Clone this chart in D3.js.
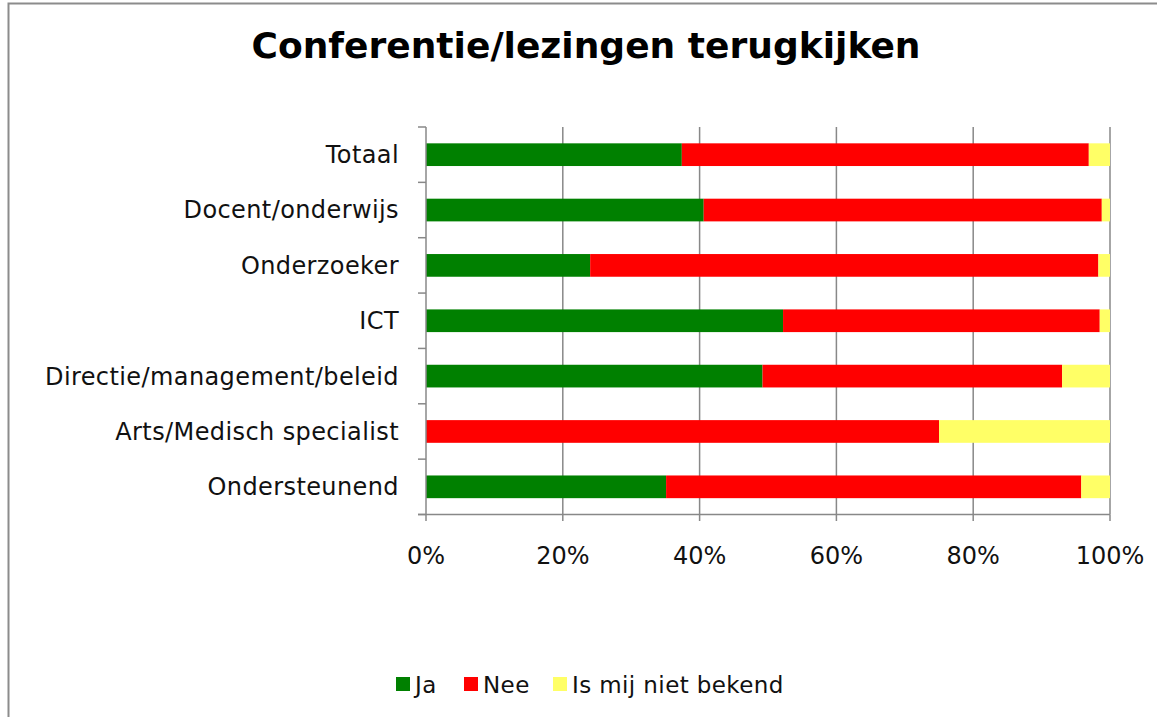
<!DOCTYPE html>
<html>
<head>
<meta charset="utf-8">
<script src="https://cdn.jsdelivr.net/npm/d3@7"></script>
<style>
  body { margin: 0; background: #fff; }
  svg { display: block; font-family: "DejaVu Sans", Verdana, sans-serif; }
</style>
</head>
<body>
<svg></svg>
<script>
"use strict"

// categories top to bottom
let categories = ["Totaal", "Docent/onderwijs", "Onderzoeker", "ICT",
  "Directie/management/beleid", "Arts/Medisch specialist", "Ondersteunend"]

// percentages per answer
let ja = [37.4, 40.6, 24.0, 52.2, 49.2, 0, 35.1]
let nee = [59.5, 58.2, 74.3, 46.3, 43.8, 75.0, 60.7]
let onbekend = [3.1, 1.2, 1.7, 1.5, 7.0, 25.0, 4.2]

let seriesNames = ["Ja", "Nee", "Is mij niet bekend"]
let seriesColors = ["#008000", "#ff0000", "#ffff66"]
let tickValues = [0, 20, 40, 60, 80, 100]

let width = 1157, height = 717
let svg = d3.select("svg").attr("width", width).attr("height", height)

// chart frame
svg.append("rect")
  .attr("x", 8.5).attr("y", 3.5)
  .attr("width", 1160).attr("height", 730)
  .attr("fill", "#fff").attr("stroke", "#8c8c8c").attr("stroke-width", 2)

svg.append("text")
  .attr("x", 586).attr("y", 58)
  .attr("text-anchor", "middle")
  .attr("font-size", 35).attr("font-weight", "bold")
  .attr("textLength", 669).attr("lengthAdjust", "spacingAndGlyphs")
  .text("Conferentie/lezingen terugkijken")

let rows = categories.map((c, i) => ({cat: c, Ja: ja[i], Nee: nee[i], Onb: onbekend[i]}))
let stack = d3.stack().keys(["Ja", "Nee", "Onb"])(rows)

let x = d3.scaleLinear().domain([0, 100]).range([426, 1110])
let y = d3.scaleBand().domain(categories).range([127, 514.5]).paddingInner(0.59).paddingOuter(0.295)
let yTicks = d3.scaleBand().domain(categories).range([127, 514.5])

// gridlines
svg.append("g").selectAll("line")
  .data(tickValues.slice(1))
  .join("line")
  .attr("x1", d => x(d)).attr("x2", d => x(d))
  .attr("y1", 127).attr("y2", 514.5)
  .attr("stroke", "#888").attr("stroke-width", 1.5)

// bars
svg.append("g").selectAll("g")
  .data(stack)
  .join("g")
  .attr("fill", (d, i) => seriesColors[i])
  .selectAll("rect")
  .data(d => d.filter(p => p[1] > p[0]))
  .join("rect")
  .attr("x", d => x(d[0]))
  .attr("width", d => x(d[1]) - x(d[0]))
  .attr("y", d => y(d.data.cat))
  .attr("height", y.bandwidth())

// y axis
let yAxis = svg.append("g")
yAxis.append("line")
  .attr("x1", 426).attr("x2", 426).attr("y1", 127).attr("y2", 514.5)
  .attr("stroke", "#888").attr("stroke-width", 1.5)
yAxis.selectAll(".tk")
  .data(categories.concat(["_end"]))
  .join("line")
  .attr("x1", 418).attr("x2", 426)
  .attr("y1", (d, i) => i < categories.length ? yTicks(d) : 514.5)
  .attr("y2", (d, i) => i < categories.length ? yTicks(d) : 514.5)
  .attr("stroke", "#888").attr("stroke-width", 1.5)
yAxis.selectAll("text")
  .data(categories)
  .join("text")
  .attr("x", 399)
  .attr("y", d => yTicks(d) + yTicks.bandwidth() / 2)
  .attr("dy", "0.35em")
  .attr("text-anchor", "end")
  .attr("font-size", 24)
  .attr("letter-spacing", 0.4)
  .attr("fill", "#111")
  .text(d => d)

// x axis
let xAxis = svg.append("g")
xAxis.append("line")
  .attr("x1", 418).attr("x2", 1110).attr("y1", 514.5).attr("y2", 514.5)
  .attr("stroke", "#888").attr("stroke-width", 1.5)
xAxis.selectAll("line.tk")
  .data(tickValues)
  .join("line")
  .attr("class", "tk")
  .attr("x1", d => x(d)).attr("x2", d => x(d))
  .attr("y1", 514.5).attr("y2", 521)
  .attr("stroke", "#888").attr("stroke-width", 1.5)
xAxis.selectAll("text")
  .data(tickValues)
  .join("text")
  .attr("x", d => x(d))
  .attr("y", 564)
  .attr("text-anchor", "middle")
  .attr("font-size", 24)
  .attr("fill", "#111")
  .text(d => d + "%")

// legend
let legendX = [396, 464, 553]
let legend = svg.append("g").selectAll("g")
  .data(seriesNames)
  .join("g")
  .attr("transform", (d, i) => "translate(" + legendX[i] + ",677)")
legend.append("rect")
  .attr("width", 14).attr("height", 14)
  .attr("fill", (d, i) => seriesColors[i])
legend.append("text")
  .attr("x", 19).attr("y", 16)
  .attr("font-size", 23)
  .attr("letter-spacing", 0.4)
  .attr("fill", "#111")
  .text(d => d)
</script>
</body>
</html>
